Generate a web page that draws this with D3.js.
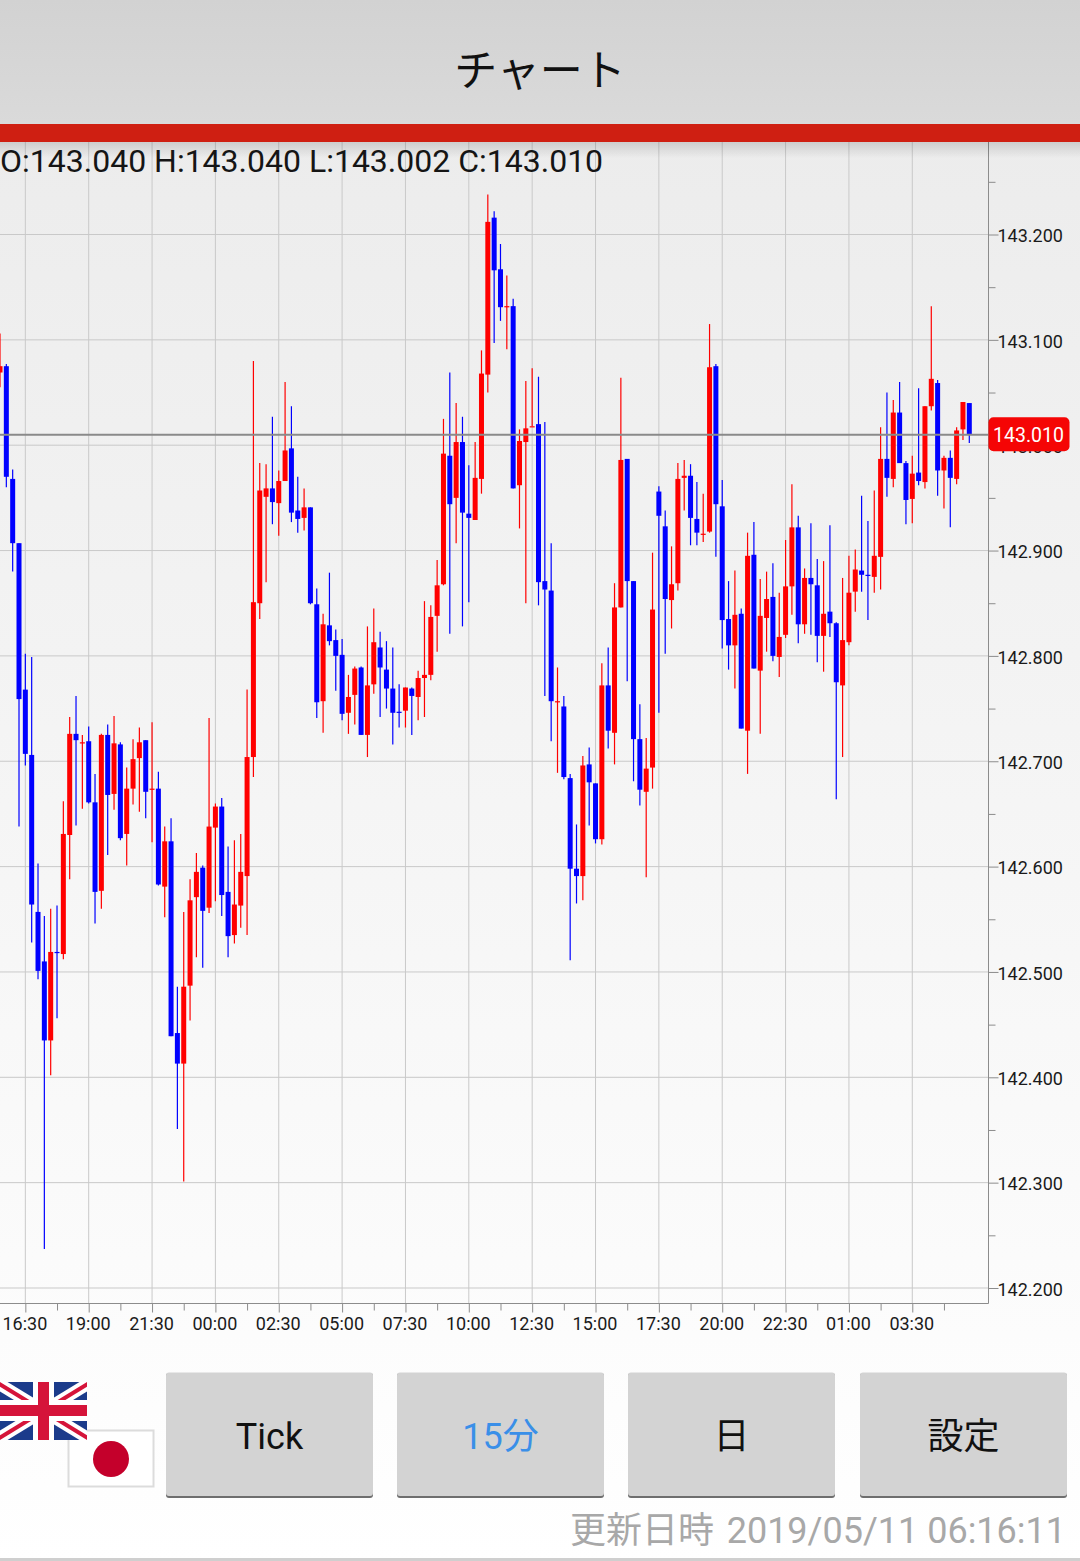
<!DOCTYPE html>
<html>
<head>
<meta charset="utf-8">
<script src="https://cdn.jsdelivr.net/npm/d3@7"></script>
<style>
    html, body { margin: 0; padding: 0; background: #fff; }
    svg { display: block; }
    text { font-family: Roboto, sans-serif; }
    .cjk { font-family: Roboto, "Noto Sans CJK JP", sans-serif; }
    .axis path, .axis line { stroke: #8c8c8c; }
    .axis text { font-family: Roboto, sans-serif; font-size: 18px; fill: #1a1a1a; }
</style>
</head>
<body>
<div id="chart"></div>
<script>
// Candles, oldest first (15 minute bars)
const opens = [143.069,143.075,142.968,142.907,142.768,142.706,142.557,142.510,142.435,142.519,
    142.517,142.630,142.726,142.718,142.719,142.661,142.577,142.725,142.669,142.716,
    142.631,142.674,142.703,142.720,142.674,142.674,142.581,142.624,142.442,142.413,
    142.487,142.571,142.599,142.561,142.637,142.657,142.576,142.535,142.563,142.591,
    142.704,142.850,142.951,142.959,142.945,142.966,142.997,142.938,142.931,142.941,
    142.849,142.757,142.829,142.815,142.801,142.746,142.763,142.789,142.725,142.773,
    142.808,142.787,142.769,142.747,142.748,142.769,142.761,142.779,142.782,142.838,
    142.868,142.990,142.950,143.003,142.935,142.929,142.968,143.067,143.216,143.167,
    143.132,143.132,142.962,143.003,143.018,143.020,142.871,142.862,142.757,142.752,
    142.684,142.598,142.591,142.697,142.679,142.626,142.772,142.727,142.846,142.987,
    142.871,142.721,142.671,142.694,142.956,142.923,142.853,142.869,142.969,142.971,
    142.930,142.916,142.918,143.075,142.942,142.835,142.810,142.840,142.729,142.896,
    142.786,142.836,142.856,142.799,142.820,142.866,142.922,142.830,142.874,142.867,
    142.819,142.842,142.831,142.772,142.813,142.861,142.881,142.877,142.875,142.894,
    142.987,142.968,143.031,142.983,142.949,142.974,142.965,143.037,143.059,142.976,
    142.988,142.968,143.015,143.040];
const highs = [143.106,143.077,142.977,142.907,142.802,142.799,142.603,142.553,142.560,142.563,
    142.662,142.742,142.762,142.725,142.733,142.688,142.726,142.735,142.743,142.718,
    142.694,142.721,142.732,142.720,142.737,142.690,142.638,142.646,142.486,142.557,
    142.588,142.613,142.601,142.741,142.660,142.665,142.619,142.625,142.631,142.768,
    143.080,142.983,142.982,143.027,142.976,143.060,143.037,142.970,142.959,142.941,
    142.864,142.840,142.879,142.825,142.816,142.782,142.790,142.790,142.828,142.845,
    142.823,142.814,142.808,142.773,142.770,142.770,142.786,142.852,142.848,142.891,
    143.025,143.069,143.040,143.027,142.981,143.003,143.090,143.238,143.222,143.191,
    143.161,143.139,143.015,143.061,143.073,143.065,143.022,142.907,142.789,142.762,
    142.688,142.640,142.705,142.713,142.679,142.793,142.808,142.869,143.064,142.987,
    142.871,142.754,142.722,142.898,142.961,142.938,142.904,142.983,142.986,142.982,
    142.965,142.954,143.115,143.077,142.967,142.871,142.881,142.845,142.917,142.927,
    142.873,142.880,142.888,142.860,142.910,142.963,142.933,142.883,142.926,142.892,
    142.890,142.924,142.832,142.874,142.895,142.901,142.952,142.928,142.957,143.017,
    143.050,143.043,143.060,142.985,142.990,143.054,143.037,143.132,143.062,142.990,
    142.995,143.017,143.041,143.040];
const lows = [143.055,142.960,142.880,142.638,142.696,142.528,142.493,142.237,142.402,142.456,
    142.512,142.588,142.639,142.655,142.660,142.546,142.560,142.611,142.654,142.625,
    142.601,142.659,142.652,142.646,142.623,142.582,142.552,142.439,142.351,142.301,
    142.454,142.514,142.504,142.556,142.567,142.553,142.514,142.527,142.542,142.535,
    142.685,142.835,142.870,142.925,142.914,142.966,142.927,142.917,142.919,142.849,
    142.741,142.727,142.810,142.767,142.739,142.726,142.735,142.725,142.704,142.764,
    142.742,142.750,142.716,142.732,142.732,142.725,142.739,142.742,142.777,142.804,
    142.867,142.821,142.907,142.828,142.851,142.929,142.954,143.050,143.097,143.118,
    143.091,142.959,142.921,142.850,143.018,142.848,142.762,142.719,142.689,142.683,
    142.511,142.565,142.568,142.639,142.622,142.621,142.712,142.697,142.846,142.776,
    142.681,142.658,142.590,142.674,142.746,142.802,142.826,142.862,142.938,142.905,
    142.905,142.908,142.917,142.894,142.807,142.787,142.769,142.731,142.688,142.788,
    142.726,142.804,142.795,142.780,142.817,142.839,142.812,142.821,142.820,142.794,
    142.785,142.818,142.664,142.704,142.810,142.842,142.861,142.834,142.860,142.863,
    142.951,142.960,142.983,142.925,142.926,142.962,142.959,143.033,142.952,142.940,
    142.922,142.963,143.005,143.002];
const closes = [143.075,142.970,142.907,142.759,142.707,142.564,142.501,142.435,142.519,142.518,
    142.631,142.726,142.720,142.718,142.661,142.576,142.725,142.668,142.717,142.627,
    142.674,142.702,142.718,142.671,142.674,142.583,142.624,142.439,142.413,142.486,
    142.568,142.595,142.558,142.638,142.657,142.573,142.534,142.564,142.595,142.704,
    142.851,142.957,142.959,142.946,142.966,142.995,142.936,142.930,142.941,142.850,
    142.756,142.830,142.814,142.800,142.745,142.761,142.788,142.725,142.772,142.813,
    142.789,142.769,142.746,142.746,142.770,142.762,142.779,142.782,142.837,142.867,
    142.992,142.944,143.003,142.936,142.931,142.969,143.068,143.212,143.166,143.131,
    143.132,142.959,143.004,143.016,143.018,142.870,142.863,142.757,142.757,142.685,
    142.598,142.591,142.696,142.680,142.626,142.772,142.729,142.846,142.986,142.871,
    142.721,142.673,142.693,142.844,142.933,142.854,142.868,142.968,142.971,142.931,
    142.917,142.916,143.074,142.944,142.834,142.810,142.839,142.731,142.895,142.788,
    142.838,142.854,142.800,142.818,142.866,142.922,142.830,142.874,142.868,142.819,
    142.840,142.831,142.775,142.815,142.860,142.882,142.877,142.876,142.895,142.987,
    142.969,143.031,142.983,142.948,142.973,142.966,143.037,143.063,142.976,142.988,
    142.969,143.014,143.041,143.010];

const timeLabels = ["16:30","19:00","21:30","00:00","02:30","05:00","07:30","10:00",
    "12:30","15:00","17:30","20:00","22:30","01:00","03:30"];
const priceTicks = [143.2,143.1,143.0,142.9,142.8,142.7,142.6,142.5,142.4,142.3,142.2];
const priceMinorTicks = [143.25,143.15,143.05,142.95,142.85,142.75,142.65,142.55,142.45,142.35,142.25];
const buttonLabels = ["Tick","15分","日","設定"];

const lastPrice = 143.010;
const ohlcText = "O:143.040 H:143.040 L:143.002 C:143.010";

const width = 1080, height = 1561;
const plotTop = 142, plotBottom = 1303.5, plotRight = 988.5;

const svg = d3.select("#chart").append("svg")
    .attr("width", width)
    .attr("height", height);

// Gradients
const defs = svg.append("defs");
const pageGrad = defs.append("linearGradient")
    .attr("id", "pageGrad").attr("x1", 0).attr("y1", 0).attr("x2", 0).attr("y2", 1);
pageGrad.append("stop").attr("offset", "0%").attr("stop-color", "#ececec");
pageGrad.append("stop").attr("offset", "100%").attr("stop-color", "#ffffff");
const shadowGrad = defs.append("linearGradient")
    .attr("id", "shadowGrad").attr("x1", 0).attr("y1", 0).attr("x2", 0).attr("y2", 1);
shadowGrad.append("stop").attr("offset", "0%").attr("stop-color", "#000").attr("stop-opacity", 0.13);
shadowGrad.append("stop").attr("offset", "100%").attr("stop-color", "#000").attr("stop-opacity", 0);
const headGrad = defs.append("linearGradient")
    .attr("id", "headGrad").attr("x1", 0).attr("y1", 0).attr("x2", 0).attr("y2", 1);
headGrad.append("stop").attr("offset", "0%").attr("stop-color", "#d2d2d2");
headGrad.append("stop").attr("offset", "100%").attr("stop-color", "#dadada");

svg.append("rect").attr("x", 0).attr("y", 124).attr("width", width).attr("height", height - 124)
    .attr("fill", "url(#pageGrad)");

// Scales
const xScale = d3.scaleLinear().domain([0, opens.length - 1]).range([0, 969.3]);
const yScale = d3.scaleLinear().domain([142.2, 143.2]).range([1288, 234.5]);

// Grid
const majorX = d3.range(4, opens.length, 10);
const minorX = d3.range(9, opens.length, 10);
svg.append("g").selectAll("line").data(priceTicks).join("line")
    .attr("x1", 0).attr("x2", plotRight)
    .attr("y1", d => yScale(d)).attr("y2", d => yScale(d))
    .attr("stroke", "#c9c9c9").attr("stroke-width", 1);
svg.append("g").selectAll("line").data(majorX).join("line")
    .attr("x1", d => xScale(d)).attr("x2", d => xScale(d))
    .attr("y1", plotTop).attr("y2", plotBottom)
    .attr("stroke", "#c9c9c9").attr("stroke-width", 1);

// Candles
const candles = svg.append("g").selectAll("g")
    .data(d3.range(opens.length))
    .join("g")
    .attr("fill", i => closes[i] < opens[i] ? "#0000ff" : "#ff0000")
    .attr("stroke", i => closes[i] < opens[i] ? "#0000ff" : "#ff0000");
candles.append("line")
    .attr("x1", i => xScale(i)).attr("x2", i => xScale(i))
    .attr("y1", i => yScale(highs[i])).attr("y2", i => yScale(lows[i]))
    .attr("stroke-width", 1.2);
candles.append("rect")
    .attr("stroke", "none")
    .attr("x", i => xScale(i) - 2.5)
    .attr("width", 5)
    .attr("y", i => yScale(Math.max(opens[i], closes[i])))
    .attr("height", i => Math.max(1.2, Math.abs(yScale(opens[i]) - yScale(closes[i]))));

// Last price line
svg.append("line")
    .attr("x1", 0).attr("x2", plotRight)
    .attr("y1", yScale(lastPrice)).attr("y2", yScale(lastPrice))
    .attr("stroke", "#8a8a8a").attr("stroke-width", 2);

// Axes
const axisRight = d3.axisRight(yScale).tickValues(priceTicks).tickSize(10).tickPadding(0)
    .tickFormat(d3.format(".3f"));
const gRight = svg.append("g").attr("class", "axis").attr("transform", `translate(${plotRight},0)`).call(axisRight);
gRight.select(".domain").remove();
gRight.selectAll("text").attr("x", 9).attr("y", 1.5);
const axisRightMinor = d3.axisRight(yScale).tickValues(priceMinorTicks).tickSize(7).tickFormat("");
const gRightMinor = svg.append("g").attr("class", "axis").attr("transform", `translate(${plotRight},0)`).call(axisRightMinor);
gRightMinor.select(".domain").remove();

const axisBottom = d3.axisBottom(xScale).tickValues(majorX).tickSize(9).tickPadding(0)
    .tickFormat((d, i) => timeLabels[i]);
const gBottom = svg.append("g").attr("class", "axis").attr("transform", `translate(0,${plotBottom})`).call(axisBottom);
gBottom.select(".domain").remove();
gBottom.selectAll("text").attr("x", -1).attr("y", 13.5).attr("dy", "0.71em");
const axisBottomMinor = d3.axisBottom(xScale).tickValues(minorX).tickSize(7).tickFormat("");
const gBottomMinor = svg.append("g").attr("class", "axis").attr("transform", `translate(0,${plotBottom})`).call(axisBottomMinor);
gBottomMinor.select(".domain").remove();

svg.append("line").attr("x1", 0).attr("x2", plotRight).attr("y1", plotBottom).attr("y2", plotBottom)
    .attr("stroke", "#8c8c8c");
svg.append("line").attr("x1", plotRight).attr("x2", plotRight).attr("y1", plotTop).attr("y2", plotBottom)
    .attr("stroke", "#8c8c8c");

// Last price tag
svg.append("rect")
    .attr("x", plotRight).attr("y", yScale(lastPrice) - 17.5)
    .attr("width", 81).attr("height", 34).attr("rx", 5)
    .attr("fill", "#f50505");
svg.append("text")
    .attr("x", plotRight + 40).attr("y", yScale(lastPrice) + 7)
    .attr("text-anchor", "middle").attr("font-size", 19.5).attr("fill", "#fff")
    .text(d3.format(".3f")(lastPrice));

// Header
svg.append("rect").attr("width", width).attr("height", 124).attr("fill", "url(#headGrad)");
svg.append("rect").attr("y", 124).attr("width", width).attr("height", 18).attr("fill", "#cf1f12");
svg.append("rect").attr("y", 142).attr("width", width).attr("height", 16).attr("fill", "url(#shadowGrad)");
svg.append("text").attr("class", "cjk")
    .attr("x", 540).attr("y", 86).attr("text-anchor", "middle")
    .attr("font-size", 43).attr("fill", "#111")
    .text("チャート");

// OHLC readout
svg.append("text")
    .attr("x", 0).attr("y", 172)
    .attr("font-size", 32).attr("fill", "#151515")
    .text(ohlcText);

// Flags
const japan = svg.append("g");
japan.append("rect").attr("x", 68.5).attr("y", 1430.5).attr("width", 85).attr("height", 56)
    .attr("fill", "#fff").attr("stroke", "#dcdcdc").attr("stroke-width", 2);
japan.append("circle").attr("cx", 111).attr("cy", 1459).attr("r", 18).attr("fill", "#c4002b");

defs.append("clipPath").attr("id", "ukClip")
    .append("rect").attr("x", 0).attr("y", 1382).attr("width", 87).attr("height", 58);
const uk = svg.append("g").attr("clip-path", "url(#ukClip)");
uk.append("rect").attr("x", 0).attr("y", 1382).attr("width", 87).attr("height", 58).attr("fill", "#1b3b8b");
const ukDiagonals = [[-4, 1382, 91, 1440], [-4, 1440, 91, 1382]];
uk.selectAll(".diagW").data(ukDiagonals).join("line").attr("class", "diagW")
    .attr("x1", d => d[0]).attr("y1", d => d[1]).attr("x2", d => d[2]).attr("y2", d => d[3])
    .attr("stroke", "#fff").attr("stroke-width", 12);
uk.selectAll(".diagR").data(ukDiagonals).join("line").attr("class", "diagR")
    .attr("x1", d => d[0]).attr("y1", d => d[1]).attr("x2", d => d[2]).attr("y2", d => d[3])
    .attr("stroke", "#d5143a").attr("stroke-width", 4);
uk.append("rect").attr("x", 33).attr("y", 1382).attr("width", 21).attr("height", 58).attr("fill", "#fff");
uk.append("rect").attr("x", 0).attr("y", 1400).attr("width", 87).attr("height", 21).attr("fill", "#fff");
uk.append("rect").attr("x", 38).attr("y", 1382).attr("width", 11).attr("height", 58).attr("fill", "#d5143a");
uk.append("rect").attr("x", 0).attr("y", 1405).attr("width", 87).attr("height", 11).attr("fill", "#d5143a");

// Buttons
const buttonX = [166, 397, 628, 860];
const buttons = svg.append("g").selectAll("g").data(buttonLabels).join("g");
buttons.append("rect")
    .attr("x", (d, i) => buttonX[i]).attr("y", 1373)
    .attr("width", 207).attr("height", 125).attr("rx", 3)
    .attr("fill", "#6e6e6e");
buttons.append("rect")
    .attr("x", (d, i) => buttonX[i]).attr("y", 1372.5)
    .attr("width", 207).attr("height", 123.5).attr("rx", 3)
    .attr("fill", "#d3d3d3");
buttons.append("text").attr("class", "cjk")
    .attr("x", (d, i) => buttonX[i] + 103.5).attr("y", 1449)
    .attr("text-anchor", "middle").attr("font-size", 36)
    .attr("fill", d => d === "15分" ? "#3a8fe8" : "#111")
    .text(d => d);

// Footer
svg.append("text").attr("class", "cjk")
    .attr("x", 570).attr("y", 1543)
    .attr("font-size", 36).attr("fill", "#a8a8a8")
    .text("更新日時");
svg.append("text").attr("class", "cjk")
    .attr("x", 1066).attr("y", 1543).attr("text-anchor", "end")
    .attr("font-size", 36).attr("fill", "#a8a8a8")
    .text("2019/05/11 06:16:11");
svg.append("rect").attr("y", 1558).attr("width", width).attr("height", 3).attr("fill", "#cfcfcf");
</script>
</body>
</html>
